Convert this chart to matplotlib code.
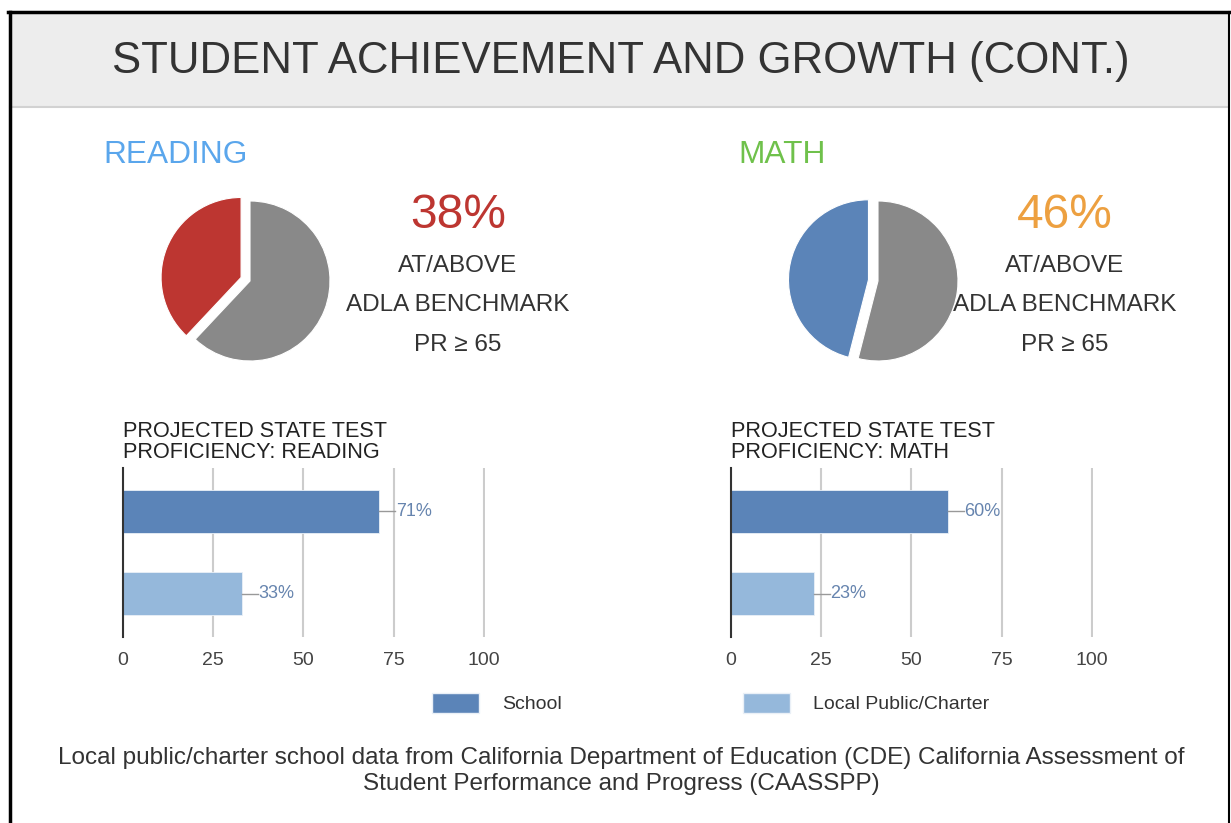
import matplotlib.pyplot as plt
from matplotlib.patches import Rectangle, Patch
from matplotlib.lines import Line2D

plt.rcParams['font.family'] = ['Liberation Sans', 'DejaVu Sans']

W, H = 1231, 823

# data
subjects = ['READING', 'MATH']
pie_pct = [38, 46]
groups = ['School', 'Local Public/Charter']
reading_prof = [71, 33]
math_prof = [60, 23]
xticks = [0, 25, 50, 75, 100]

title = 'STUDENT ACHIEVEMENT AND GROWTH (CONT.)'
footer = ('Local public/charter school data from California Department of Education (CDE) California Assessment of\n'
          'Student Performance and Progress (CAASSPP)')

subject_colors = ['#5AA6EC', '#6FC14B']
pie_colors = ['#BD3631', '#5B84B8']
pct_colors = ['#BD3631', '#EDA040']
grey = '#898989'
bar_colors = ['#5B84B8', '#95B8DB']
label_color = '#6684AE'
text_color = '#333333'


def px_axes(fig, x0, y0, x1, y1):
    return fig.add_axes([x0 / W, 1 - y1 / H, (x1 - x0) / W, (y1 - y0) / H])


def fx(x):
    return x / W


def fy(y):
    return 1 - y / H


fig = plt.figure(figsize=(W / 100, H / 100), dpi=100)

# header band and frame
fig.patches.append(Rectangle((fx(10), fy(107)), fx(1218), 94 / H, transform=fig.transFigure,
                             facecolor='#EDEDED', edgecolor='none', zorder=0))
fig.lines.append(Line2D([fx(10), fx(1228)], [fy(107), fy(107)], transform=fig.transFigure,
                        color='#D2D2D2', lw=1.5))
fig.lines.append(Line2D([fx(8), fx(1231)], [fy(12), fy(12)], transform=fig.transFigure,
                        color='black', lw=2.5))
fig.lines.append(Line2D([fx(10), fx(10)], [fy(12), 0], transform=fig.transFigure,
                        color='black', lw=2.5))
fig.lines.append(Line2D([fx(1229), fx(1229)], [fy(12), 0], transform=fig.transFigure,
                        color='black', lw=1.5))
fig.text(fx(621), fy(62), title, ha='center', va='center', fontsize=31.5, color=text_color)

pie_centers = [(250, 281), (878, 281)]
text_centers = [458, 1065]
subject_x = [103, 738]
r = 80

for i in range(2):
    cx, cy = pie_centers[i]
    fig.text(fx(subject_x[i]), fy(155), subjects[i], ha='left', va='center',
             fontsize=22.8, color=subject_colors[i])
    ax = px_axes(fig, cx - 1.25 * r, cy - 1.25 * r, cx + 1.25 * r, cy + 1.25 * r)
    ax.pie([pie_pct[i], 100 - pie_pct[i]], colors=[pie_colors[i], grey], startangle=90,
           explode=[0.12, 0], wedgeprops=dict(edgecolor='white', linewidth=0.8))
    ax.set_xlim(-1.25, 1.25)
    ax.set_ylim(-1.25, 1.25)
    ax.set_aspect('equal')
    ax.axis('off')

    tx = text_centers[i]
    fig.text(fx(tx), fy(215), f'{pie_pct[i]}%', ha='center', va='center',
             fontsize=34.5, color=pct_colors[i])
    fig.text(fx(tx), fy(266), 'AT/ABOVE', ha='center', va='center', fontsize=17.5, color=text_color)
    fig.text(fx(tx), fy(305), 'ADLA BENCHMARK', ha='center', va='center', fontsize=17.5, color=text_color)
    fig.text(fx(tx), fy(345), 'PR \u2265 65', ha='center', va='center', fontsize=17.5, color=text_color)

# bar charts
bar_data = [reading_prof, math_prof]
bar_titles = ['PROJECTED STATE TEST\nPROFICIENCY: READING', 'PROJECTED STATE TEST\nPROFICIENCY: MATH']
bar_left = [123, 731]

for i in range(2):
    x0 = bar_left[i]
    ax = px_axes(fig, x0, 468, x0 + 362, 637)
    pos = list(range(len(groups)))
    ax.barh(pos, bar_data[i], height=0.52, color=bar_colors, edgecolor='#EAF0F7',
            linewidth=0.6, zorder=3)
    for p, v in zip(pos, bar_data[i]):
        ax.plot([v, v + 4.5], [p, p], color='#999999', lw=1, zorder=3)
        ax.text(v + 4.6, p, f'{v}%', ha='left', va='center', fontsize=13, color=label_color)
    ax.set_xlim(0, 100.3)
    ax.set_ylim(1.52, -0.52)
    ax.set_xticks(xticks)
    ax.set_yticks([])
    ax.grid(axis='x', color='#CCCCCC', lw=1.5, zorder=0)
    ax.tick_params(axis='x', length=0, pad=11, labelsize=14, labelcolor='#444444')
    for s in ['top', 'right', 'bottom']:
        ax.spines[s].set_visible(False)
    ax.spines['left'].set_color('#333333')
    ax.spines['left'].set_linewidth(1.5)
    ax.spines['left'].set_zorder(4)
    ax.patch.set_alpha(0)
    fig.text(fx(x0), fy(442), bar_titles[i], ha='left', va='center', fontsize=15.6,
             color='#222222', linespacing=1.05)

handles = [Patch(facecolor=c, edgecolor='#EAF0F7') for c in bar_colors]
fig.legend(handles, groups, loc='center', bbox_to_anchor=(fx(711), fy(703)), ncol=2,
           frameon=False, fontsize=14, handlelength=2.42, handleheight=1.25,
           handletextpad=1.19, columnspacing=9.3, labelcolor='#333333')

fig.text(fx(621), fy(771), footer, ha='center', va='center', fontsize=17.5,
         color=text_color, linespacing=1.22)

fig.savefig('out.png', dpi=100)
